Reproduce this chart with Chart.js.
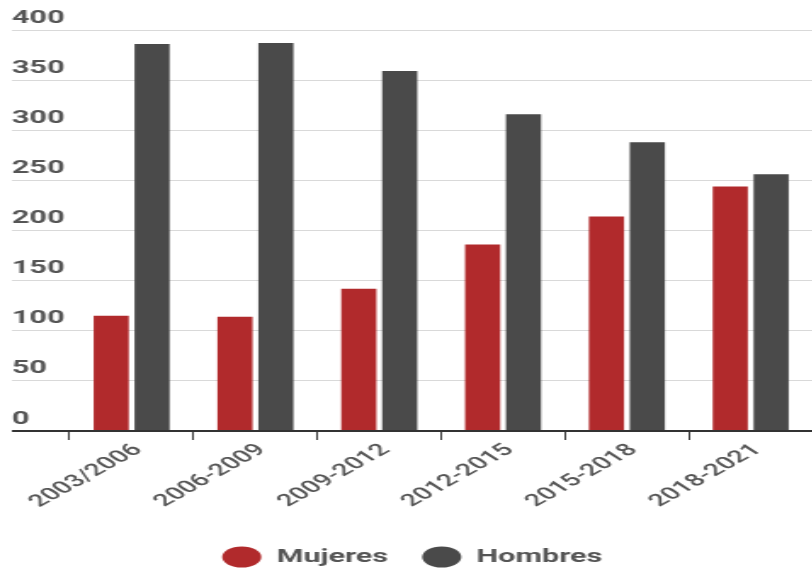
<!DOCTYPE html>
<html>
  <head>
    <title>Mujeres y Hombres por periodo</title>
    <style>
      body { margin: 0; overflow: hidden; background: #fff; }
      #wrap { width: 812px; height: 571px; overflow: hidden; }
      /* the reference is stretched sideways, so draw narrow and stretch */
      #chart { transform: scaleX(1.7); transform-origin: 0 0; }
    </style>
  </head>
  <body>
    <script src="https://cdn.jsdelivr.net/npm/chart.js@4/dist/chart.umd.min.js"></script>

    <div id="wrap"><canvas id="chart" width="478" height="571"></canvas></div>

    <script>
      const periods = ["2003/2006", "2006-2009", "2009-2012", "2012-2015", "2015-2018", "2018-2021"];
      const mujeres = [115, 114, 142, 186, 214, 244];
      const hombres = [386, 387, 359, 316, 288, 256];
      const yTicks = [0, 50, 100, 150, 200, 250, 300, 350, 400];

      const textColor = "#555";

      const ctx = document.getElementById("chart").getContext("2d");

      const chart = new Chart(ctx, {
        type: "bar",
        data: {
          labels: periods,
          datasets: [
            { label: "Mujeres", data: mujeres, backgroundColor: "#b12a2c" },
            { label: "Hombres", data: hombres, backgroundColor: "#4a4a4a" }
          ]
        },
        options: {
          responsive: false,
          animation: false,
          layout: { padding: { top: 30, left: 7, right: 0, bottom: -5 } },
          datasets: { bar: { categoryPercentage: 0.66, barPercentage: 0.86 } },
          scales: {
            x: {
              border: { display: false },
              afterFit: (scale) => { scale.height = 97; },
              grid: { drawOnChartArea: false, color: "#333", tickLength: 9 },
              ticks: {
                color: textColor,
                font: { family: "Roboto", size: 17, weight: "500" },
                minRotation: 43,
                maxRotation: 43,
                labelOffset: 4,
                padding: 0
              }
            },
            y: {
              min: yTicks[0],
              max: yTicks[yTicks.length - 1],
              border: { display: false },
              afterBuildTicks: (scale) => { scale.ticks = yTicks.map(v => ({ value: v })); },
              afterFit: (scale) => { scale.width = 34; },
              grid: {
                tickLength: 34,
                color: (c) => (c.tick && c.tick.value === 0 ? "#333" : "#d9d9d9"),
                lineWidth: (c) => (c.tick && c.tick.value === 0 ? 2 : 1)
              },
              ticks: {
                color: textColor,
                font: { family: "Roboto", size: 18, weight: "bold" },
                crossAlign: "far",
                labelOffset: -12,
                padding: 0
              }
            }
          },
          plugins: {
            tooltip: { enabled: false },
            legend: {
              position: "bottom",
              labels: {
                usePointStyle: true,
                pointStyle: "circle",
                pointStyleWidth: 23,
                boxHeight: 15,
                color: textColor,
                font: { family: "Roboto", size: 18, weight: "bold" },
                padding: 20
              }
            }
          }
        }
      });
    </script>
  </body>
</html>
